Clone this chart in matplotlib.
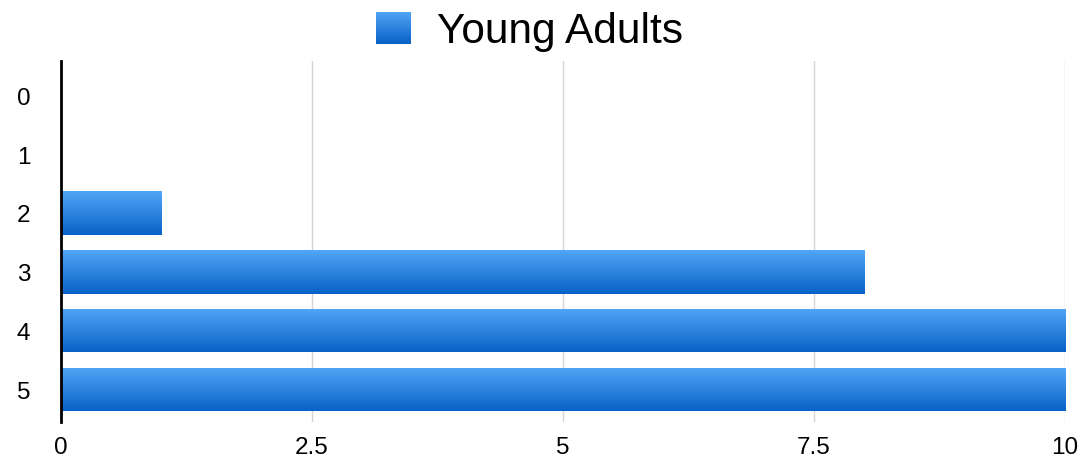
import numpy as np
import matplotlib
matplotlib.use('Agg')
from matplotlib import pyplot as plt
from matplotlib.colors import LinearSegmentedColormap

categories = ['0', '1', '2', '3', '4', '5']
young_adults = [0, 0, 1, 8, 10, 10]
x_ticks = [0, 2.5, 5, 7.5, 10]
x_tick_labels = ['0', '2.5', '5', '7.5', '10']
series_name = "Young Adults"

plt.rcParams['font.family'] = ['Liberation Sans', 'DejaVu Sans']

# light blue at the top of each bar fading to a deeper blue underneath
blues = LinearSegmentedColormap.from_list("bar_blue", ["#52a6f7", "#0862c6"])
gradient = np.linspace(0, 1, 256).reshape(-1, 1)

fig = plt.figure(figsize=(10.85, 4.64), dpi=100)
ax = fig.add_axes([0.0562, 0.0884, 0.9254, 0.778])

y_pos = np.arange(len(categories))
bars = ax.barh(y_pos, young_adults, height=0.74, color="#2a85e0", linewidth=0, zorder=2)

for bar in bars:
    x0, y0 = bar.get_x(), bar.get_y()
    w, h = bar.get_width(), bar.get_height()
    if w <= 0:
        continue
    bar.set_facecolor("none")
    img = ax.imshow(gradient, cmap=blues, aspect='auto', interpolation='bicubic',
                    extent=(x0, x0 + w, y0 + h, y0), zorder=3)
    img.set_clip_path(bar)

ax.set_xlim(0, 10)
ax.set_ylim(5.55, -0.58)
ax.set_yticks(y_pos)
ax.set_yticklabels(categories)
ax.set_xticks(x_ticks)
ax.set_xticklabels(x_tick_labels)
ax.tick_params(axis='both', length=0, labelsize=17.5, colors='black')
ax.tick_params(axis='y', pad=22)
ax.tick_params(axis='x', pad=10)

ax.grid(axis='x', color='#d4d4d4', linewidth=1, zorder=0)
ax.set_axisbelow(True)
for side in ['top', 'right', 'bottom']:
    ax.spines[side].set_visible(False)
ax.spines['left'].set_linewidth(2)
ax.spines['left'].set_color('black')
ax.spines['left'].set_zorder(5)

# legend swatch and label along the top
swatch = fig.add_axes([376 / 1085, 1 - 45 / 464, 35 / 1085, 32 / 464])
swatch.imshow(gradient, cmap=blues, aspect='auto', interpolation='bicubic')
swatch.axis('off')
fig.text(437 / 1085, 1 - 32 / 464, series_name, fontsize=30.5, va='center', ha='left')

plt.savefig("out.png", dpi=100)
